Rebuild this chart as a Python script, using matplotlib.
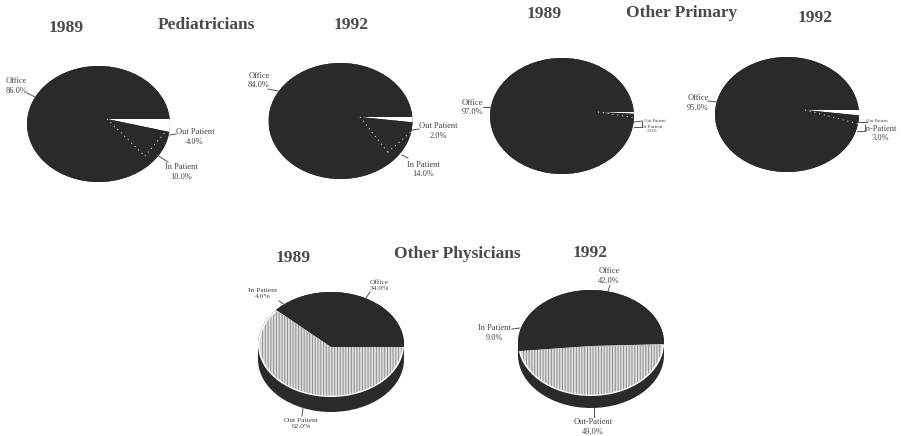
import numpy as np
import matplotlib
matplotlib.use("Agg")
import matplotlib.pyplot as plt
from matplotlib.patches import Circle, Rectangle

plt.rcParams["font.family"] = ["Liberation Serif", "DejaVu Serif"]
plt.rcParams["hatch.linewidth"] = 0.7

W, H = 901, 436
INK = "#2a2a2a"

# Share of visits by site, in percent (clockwise from the right-hand edge)
ped_1989 = [4.0, 10.0, 86.0]
ped_1992 = [2.0, 14.0, 84.0]
prim_1989 = [1.0, 2.0, 97.0]
prim_1992 = [2.0, 3.0, 95.0]
phys_1989 = [62.0, 4.0, 34.0]
phys_1992 = [49.0, 9.0, 42.0]

# Pie placement in pixels: centre x, centre y, radius x, radius y, apex x, apex y, rim depth
GEOM_PED_89 = (98.5, 124, 71.5, 58, 107, 119, 0)
GEOM_PED_92 = (340.5, 121, 72, 58, 360, 117, 0)
GEOM_PRIM_89 = (562, 116, 72, 58, 598, 112, 0)
GEOM_PRIM_92 = (787, 114.5, 72, 57.5, 805, 110, 0)
GEOM_PHYS_89 = (331, 344.5, 73, 52.5, 331, 347, 15)
GEOM_PHYS_92 = (591, 343, 73, 53, 591, 346, 12)

fig = plt.figure(figsize=(W / 100, H / 100), dpi=100, facecolor="white")


def draw_pie(values, geom, speckled=False, start=0.0, sep_reach=0.0, chord=False):
    cx, cy, rx, ry, px, py, depth = geom
    d = depth / ry
    ax = fig.add_axes([(cx - rx) / W, 1 - (cy + ry + depth) / H,
                       2 * rx / W, (2 * ry + depth) / H])
    apex = ((px - cx) / rx, -(py - cy) / ry)

    if depth:
        ax.add_patch(Circle((0, -d), 1, fc=INK, ec="none", zorder=1, clip_on=False))
        ax.add_patch(Rectangle((-1, -d), 2, d, fc=INK, ec="none", zorder=1, clip_on=False))
    top = Circle((0, 0), 1, fc=INK, ec="none", zorder=2, clip_on=False)
    ax.add_patch(top)

    wedges, _ = ax.pie(values, center=apex, radius=3, startangle=start,
                       counterclock=False, frame=False,
                       colors=["white", INK, INK],
                       wedgeprops=dict(linewidth=0))
    for w in wedges:
        w.set_zorder(3)
        w.set_clip_on(True)
        w.set_clip_path(top)

    # Shaded print texture inside a pale margin on the large out-patient slice
    if speckled:
        inner = Circle((0, 0), 0.975, transform=ax.transData)
        shaded, _ = ax.pie(values, center=apex, radius=3, startangle=start,
                           counterclock=False, frame=False,
                           colors=["#dedede", "none", "none"],
                           wedgeprops=dict(linewidth=0))
        shaded[0].set_edgecolor("#8f8f8f")
        shaded[0].set_hatch("||||||")
        shaded[0].set_linewidth(0)
        shaded[0].set_zorder(3.5)
        shaded[0].set_clip_on(True)
        shaded[0].set_clip_path(inner)
        shaded[1].set_visible(False)
        shaded[2].set_visible(False)

    # Dotted white boundary of the in-patient slice
    if sep_reach:
        a1 = np.radians(start - 3.6 * values[0])
        a2 = np.radians(start - 3.6 * (values[0] + values[1]))
        tip = (apex[0] + sep_reach * np.cos(a2), apex[1] + sep_reach * np.sin(a2))
        line = ax.plot([apex[0], tip[0]], [apex[1], tip[1]], color="white", lw=0.7,
                       dashes=(1, 4), zorder=4)[0]
        line.set_clip_path(top)
        if chord:
            end = (apex[0] + 0.85 * np.cos(a1), apex[1] + 0.85 * np.sin(a1))
            line = ax.plot([tip[0], end[0]], [tip[1], end[1]], color="white", lw=0.7,
                           dashes=(1, 4), zorder=4)[0]
            line.set_clip_path(top)

    ax.set_aspect("auto")
    ax.set_xlim(-1, 1)
    ax.set_ylim(-1 - d, 1)
    ax.axis("off")


draw_pie(ped_1989, GEOM_PED_89, sep_reach=0.83, chord=True)
draw_pie(ped_1992, GEOM_PED_92, sep_reach=0.72, chord=True)
draw_pie(prim_1989, GEOM_PRIM_89, sep_reach=0.65)
draw_pie(prim_1992, GEOM_PRIM_92, sep_reach=0.8)
draw_pie(phys_1989, GEOM_PHYS_89, speckled=True)
draw_pie(phys_1992, GEOM_PHYS_92, speckled=True, start=2.0)

# Overlay in pixel coordinates for headings, labels and leader lines
ov = fig.add_axes([0, 0, 1, 1], zorder=10)
ov.set_xlim(0, W)
ov.set_ylim(H, 0)
ov.axis("off")
ov.patch.set_alpha(0)


def heading(x, y, s):
    ov.text(x, y, s, ha="center", va="center", fontsize=12.5, fontweight="bold",
            color="#4a4a4a")


def label(x, y, s, size=6.0):
    ov.text(x, y, s, ha="center", va="center", fontsize=size, color="#444444",
            linespacing=1.25)


def leader(x0, y0, x1, y1):
    ov.plot([x0, x1], [y0, y1], color="#555555", lw=0.7)


heading(66, 28, "1989")
heading(206, 25, "Pediatricians")
heading(351, 25, "1992")
heading(544, 14, "1989")
heading(682, 13, "Other Primary")
heading(815, 18, "1992")
heading(293, 258, "1989")
heading(457, 254, "Other Physicians")
heading(590, 253, "1992")

label(16, 86, f"Office\n{ped_1989[2]:.1f}%")
leader(27, 93, 35, 97)
label(195, 137, f"Out Patient\n{ped_1989[0]:.1f}%")
leader(170, 135, 176, 134)
label(181, 172, f"In Patient\n{ped_1989[1]:.1f}%")
leader(157, 155, 168, 162)

label(259, 80.5, f"Office\n{ped_1992[2]:.1f}%")
leader(268, 89, 278, 91)
label(438, 131, f"Out Patient\n{ped_1992[0]:.1f}%")
leader(412, 130, 419, 129)
label(423, 169.5, f"In Patient\n{ped_1992[1]:.1f}%")
leader(402, 155, 408, 158)

label(472, 107.5, f"Office\n{prim_1989[2]:.1f}%")
leader(483, 107, 490, 107)
label(655, 121, "Out Patient", size=3.4)
label(652, 129, f"In Patient\n{prim_1989[1]:.1f}%", size=3.8)
leader(634, 122, 642, 121)
leader(634, 127, 642, 127)
leader(642, 121, 642, 127)

label(698, 103, f"Office\n{prim_1992[2]:.1f}%")
leader(708, 101, 717, 102)
label(877, 121, "Out Patient", size=3.4)
leader(858, 122, 867, 122)
label(880, 133.5, f"In-Patient\n{prim_1992[1]:.1f}%")
leader(857, 131, 865, 131)

label(263, 293.5, f"In Patient\n{phys_1989[1]:.1f}%", size=5.4)
leader(279, 301, 285, 305)
label(379, 285.5, f"Office\n{phys_1989[2]:.1f}%", size=5.4)
leader(370, 292, 366, 298)
label(301, 423.5, f"Out Patient\n{phys_1989[0]:.1f}%", size=5.4)
leader(303, 408, 302, 416)

label(609, 276, f"Office\n{phys_1992[2]:.1f}%")
leader(610, 285, 608, 291)
label(494, 333, f"In Patient\n{phys_1992[1]:.1f}%")
leader(512, 329, 520, 328)
label(593, 427, f"Out-Patient\n{phys_1992[0]:.1f}%")
leader(594, 408, 594, 417)

fig.savefig("out.png", dpi=100, facecolor="white")
